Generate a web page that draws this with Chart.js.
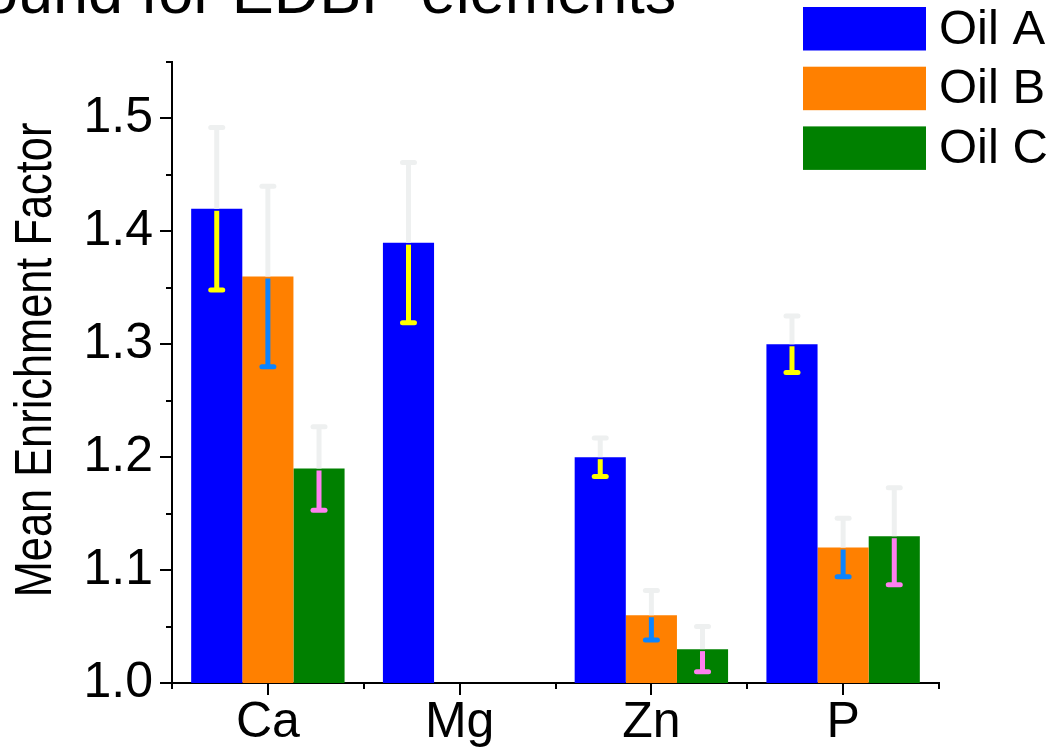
<!DOCTYPE html>
<html><head><meta charset="utf-8">
<script src="https://cdn.jsdelivr.net/npm/chart.js@4/dist/chart.umd.min.js"></script>
<style>html,body{margin:0;padding:0;background:#fff;overflow:hidden}</style>
</head><body>
<canvas id="c" width="1063" height="752"></canvas>
<script>
const categories = ['Ca', 'Mg', 'Zn', 'P'];
const seriesNames = ['Oil A', 'Oil B', 'Oil C'];
const oilA = [1.42, 1.39, 1.20, 1.30];
const oilB = [1.36, null, 1.06, 1.12];
const oilC = [1.19, null, 1.03, 1.13];
const errA = [0.072, 0.071, 0.017, 0.025];
const errB = [0.080, null, 0.022, 0.026];
const errC = [0.037, null, 0.020, 0.043];
const yMajorTicks = [1.0, 1.1, 1.2, 1.3, 1.4, 1.5];
const yMinorTicks = [1.05, 1.15, 1.25, 1.35, 1.45, 1.55];
const titleText = 'ound for EDBP elements';
const yTitleText = 'Mean Enrichment Factor';

const FONT = '"Liberation Sans", Arial, Helvetica, sans-serif';
const barColors = ['#0000ff', '#ff8000', '#008000'];
const errColors = ['#ffff00', '#0a84ff', '#ff80f0'];
const errUpperColor = '#eef0f0';
const seriesValues = [oilA, oilB, oilC];
const seriesErrors = [errA, errB, errC];

const errorBarPlugin = {
  id: 'errorBars',
  afterDatasetsDraw(chart) {
    const ctx = chart.ctx, y = chart.scales.y;
    ctx.save();
    chart.data.datasets.forEach((ds, i) => {
      const meta = chart.getDatasetMeta(i);
      meta.data.forEach((el, j) => {
        const v = ds.data[j], e = ds.errors[j];
        if (v == null || e == null) return;
        const x = el.x;
        const ym = y.getPixelForValue(v), yt = y.getPixelForValue(v + e), yb = y.getPixelForValue(v - e);
        ctx.lineWidth = 5;
        ctx.lineCap = 'butt';
        ctx.strokeStyle = errUpperColor;
        ctx.beginPath(); ctx.moveTo(x, ym); ctx.lineTo(x, yt); ctx.stroke();
        ctx.lineCap = 'round';
        ctx.beginPath(); ctx.moveTo(x - 6, yt); ctx.lineTo(x + 6, yt); ctx.stroke();
        ctx.strokeStyle = ds.errColor;
        ctx.lineCap = 'butt';
        ctx.beginPath(); ctx.moveTo(x, ym + 2); ctx.lineTo(x, yb); ctx.stroke();
        ctx.lineCap = 'round';
        ctx.beginPath(); ctx.moveTo(x - 6, yb); ctx.lineTo(x + 6, yb); ctx.stroke();
      });
    });
    ctx.restore();
  }
};

const decorPlugin = {
  id: 'decor',
  afterDraw(chart) {
    const ctx = chart.ctx, xs = chart.scales.x, ys = chart.scales.y;
    const area = chart.chartArea;
    ctx.save();
    ctx.strokeStyle = '#000';
    ctx.lineWidth = 2;
    ctx.lineCap = 'butt';
    // y ticks
    yMajorTicks.forEach(v => {
      const p = Math.round(ys.getPixelForValue(v));
      ctx.beginPath(); ctx.moveTo(area.left - 12, p); ctx.lineTo(area.left, p); ctx.stroke();
    });
    yMinorTicks.forEach(v => {
      const p = Math.round(ys.getPixelForValue(v));
      ctx.beginPath(); ctx.moveTo(area.left - 6, p); ctx.lineTo(area.left, p); ctx.stroke();
    });
    // x ticks
    categories.forEach((c, j) => {
      const p = Math.round(xs.getPixelForValue(j));
      ctx.beginPath(); ctx.moveTo(p, area.bottom); ctx.lineTo(p, area.bottom + 12); ctx.stroke();
    });
    for (let j = 0; j <= categories.length; j++) {
      const p = Math.round(xs.getPixelForValue(j - 0.5));
      ctx.beginPath(); ctx.moveTo(p, area.bottom); ctx.lineTo(p, area.bottom + 6); ctx.stroke();
    }
    // title (partly cut at top)
    ctx.fillStyle = '#000';
    ctx.font = '63px ' + FONT;
    ctx.textAlign = 'left';
    ctx.textBaseline = 'alphabetic';
    ctx.fillText(titleText, -17, 13);
    // y axis title
    ctx.save();
    ctx.translate(37, 360);
    ctx.rotate(-Math.PI / 2);
    ctx.scale(0.85, 1);
    ctx.font = '51px ' + FONT;
    ctx.textAlign = 'center';
    ctx.textBaseline = 'middle';
    ctx.fillText(yTitleText, 0, 0);
    ctx.restore();
    // legend
    ctx.font = '49px ' + FONT;
    ctx.textAlign = 'left';
    ctx.textBaseline = 'middle';
    chart.data.datasets.forEach((ds, i) => {
      const top = 7 + i * 59.7;
      ctx.fillStyle = ds.backgroundColor;
      ctx.fillRect(803, top, 123, 43.5);
      ctx.fillStyle = '#000';
      ctx.fillText(ds.label, 939, top + 23);
    });
    ctx.restore();
  }
};

new Chart(document.getElementById('c'), {
  type: 'bar',
  data: {
    labels: categories,
    datasets: seriesNames.map((n, i) => ({
      label: n,
      data: seriesValues[i],
      errors: seriesErrors[i],
      errColor: errColors[i],
      backgroundColor: barColors[i],
      borderWidth: 0,
      categoryPercentage: 0.8,
      barPercentage: 1.0
    }))
  },
  options: {
    responsive: false,
    animation: false,
    devicePixelRatio: 1,
    layout: { padding: { top: 62, right: 124, left: 0, bottom: 0 } },
    plugins: { legend: { display: false }, title: { display: false }, tooltip: { enabled: false } },
    scales: {
      x: {
        type: 'category',
        offset: true,
        grid: { display: false, drawTicks: false, tickLength: 0 },
        border: { display: true, color: '#000', width: 2 },
        ticks: { color: '#000', font: { family: FONT, size: 50 }, padding: 10, maxRotation: 0, autoSkip: false },
        afterFit(s) { s.height = 69; }
      },
      y: {
        min: 1.0,
        max: 1.55,
        grid: { display: false, drawTicks: false, tickLength: 0 },
        border: { display: true, color: '#000', width: 2 },
        ticks: {
          color: '#000', font: { family: FONT, size: 50 }, padding: 19, autoSkip: false,
          callback: v => v.toFixed(1)
        },
        afterBuildTicks(s) { s.ticks = yMajorTicks.map(v => ({ value: v })); },
        title: { display: false },
        afterFit(s) { s.width = 172; }
      }
    }
  },
  plugins: [errorBarPlugin, decorPlugin]
});
</script>
</body></html>
